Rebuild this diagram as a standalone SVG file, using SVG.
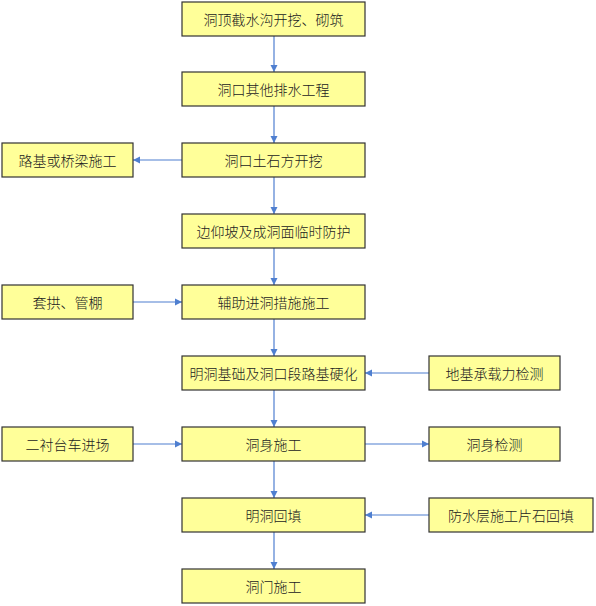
<svg xmlns="http://www.w3.org/2000/svg" width="596" height="606" viewBox="0 0 596 606">
<defs>
<style>
.box{fill:#FFFF99;stroke:#333333;stroke-width:1.2}
text{font-family:"Noto Sans CJK SC","Liberation Sans",sans-serif;font-size:14px;font-weight:300;fill:#222222;text-anchor:middle;dominant-baseline:central}
.c{stroke:#4F7FD0;stroke-width:1.2;fill:none;marker-end:url(#ah)}
</style>
<marker id="ah" markerWidth="8" markerHeight="8" refX="7" refY="4" orient="auto" markerUnits="userSpaceOnUse">
<path d="M0,0.5 L7,4 L0,7.5 Z" fill="#4F7FD0"/>
</marker>
</defs>
<rect width="596" height="606" fill="#ffffff"/>
<g id="connectors">
<line class="c" x1="274" y1="36" x2="274" y2="72"/>
<line class="c" x1="274" y1="106" x2="274" y2="143"/>
<line class="c" x1="182" y1="160" x2="133" y2="160"/>
<line class="c" x1="274" y1="177" x2="274" y2="214"/>
<line class="c" x1="274" y1="248" x2="274" y2="285"/>
<line class="c" x1="133" y1="302" x2="182" y2="302"/>
<line class="c" x1="274" y1="319" x2="274" y2="356"/>
<line class="c" x1="429" y1="373" x2="365" y2="373"/>
<line class="c" x1="274" y1="390" x2="274" y2="427"/>
<line class="c" x1="133" y1="444" x2="182" y2="444"/>
<line class="c" x1="365" y1="444" x2="429" y2="444"/>
<line class="c" x1="274" y1="461" x2="274" y2="498"/>
<line class="c" x1="429" y1="515" x2="365" y2="515"/>
<line class="c" x1="274" y1="532" x2="274" y2="569"/>
</g>
<g id="n1"><rect class="box" x="182" y="2" width="183" height="34"/><text x="273.5" y="19">洞顶截水沟开挖、砌筑</text></g>
<g id="n2"><rect class="box" x="182" y="72" width="183" height="34"/><text x="273.5" y="89">洞口其他排水工程</text></g>
<g id="n3"><rect class="box" x="182" y="143" width="183" height="34"/><text x="273.5" y="160">洞口土石方开挖</text></g>
<g id="n3l"><rect class="box" x="2" y="143" width="131" height="34"/><text x="67.5" y="160">路基或桥梁施工</text></g>
<g id="n4"><rect class="box" x="182" y="214" width="183" height="34"/><text x="273.5" y="231">边仰坡及成洞面临时防护</text></g>
<g id="n5"><rect class="box" x="182" y="285" width="183" height="34"/><text x="273.5" y="302">辅助进洞措施施工</text></g>
<g id="n5l"><rect class="box" x="2" y="285" width="131" height="34"/><text x="67.5" y="302">套拱、管棚</text></g>
<g id="n6"><rect class="box" x="182" y="356" width="183" height="34"/><text x="273.5" y="373">明洞基础及洞口段路基硬化</text></g>
<g id="n6r"><rect class="box" x="429" y="356" width="131" height="34"/><text x="494.5" y="373">地基承载力检测</text></g>
<g id="n7"><rect class="box" x="182" y="427" width="183" height="34"/><text x="273.5" y="444">洞身施工</text></g>
<g id="n7l"><rect class="box" x="2" y="427" width="131" height="34"/><text x="67.5" y="444">二衬台车进场</text></g>
<g id="n7r"><rect class="box" x="429" y="427" width="131" height="34"/><text x="494.5" y="444">洞身检测</text></g>
<g id="n8"><rect class="box" x="182" y="498" width="183" height="34"/><text x="273.5" y="515">明洞回填</text></g>
<g id="n8r"><rect class="box" x="429" y="498" width="164" height="34"/><text x="511" y="515">防水层施工片石回填</text></g>
<g id="n9"><rect class="box" x="182" y="569" width="183" height="34"/><text x="273.5" y="586">洞门施工</text></g>
</svg>
